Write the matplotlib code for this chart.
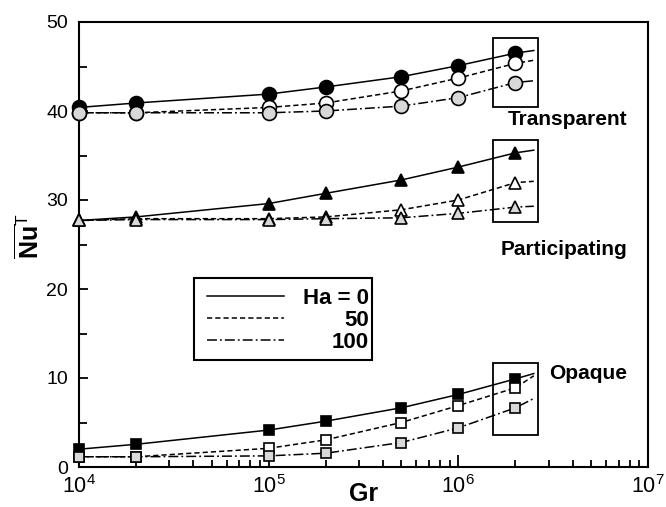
import matplotlib
matplotlib.use("Agg")
import matplotlib.pyplot as plt
from matplotlib.lines import Line2D
from matplotlib.text import Text
from matplotlib.patches import Rectangle
from matplotlib.offsetbox import AnchoredOffsetbox, DrawingArea

plt.rcParams['font.family'] = ['Liberation Sans', 'DejaVu Sans']
plt.rcParams['mathtext.fontset'] = 'custom'
plt.rcParams['mathtext.rm'] = 'Liberation Sans'
plt.rcParams['mathtext.bf'] = 'Liberation Sans:bold'
plt.rcParams['mathtext.it'] = 'Liberation Sans:italic'

# ---------------- data ----------------
gr = [1e4, 2e4, 1e5, 2e5, 5e5, 1e6, 2e6]
gr_line_end = 2.5e6

trans_ha0 = [40.4, 40.9, 41.9, 42.7, 43.85, 45.1, 46.5]
trans_ha50 = [39.8, 39.8, 40.4, 40.9, 42.25, 43.7, 45.35]
trans_ha100 = [39.8, 39.8, 39.8, 40.0, 40.55, 41.5, 43.2]
trans_end = [46.8, 45.7, 43.4]

part_ha0 = [27.7, 28.1, 29.6, 30.75, 32.25, 33.7, 35.3]
part_ha50 = [27.7, 27.9, 27.9, 28.1, 28.9, 30.0, 31.95]
part_ha100 = [27.7, 27.8, 27.8, 27.9, 28.0, 28.5, 29.2]
part_end = [35.6, 32.1, 29.3]

opaq_ha0 = [2.0, 2.55, 4.15, 5.15, 6.65, 8.15, 9.9]
opaq_ha50 = [1.15, 1.15, 2.1, 3.05, 5.0, 6.9, 8.9]
opaq_ha100 = [1.15, 1.15, 1.25, 1.55, 2.75, 4.4, 6.65]
opaq_end = [10.5, 10.25, 7.7]

ha_labels = ["Ha = 0", "50", "100"]
case_labels = ["Transparent", "Participating", "Opaque"]
yticks = [0, 10, 20, 30, 40, 50]

# highlight boxes around the Gr = 2e6 points
box_x = [1.52e6, 2.63e6]
box_y = [[40.4, 48.2], [27.5, 36.7], [3.6, 11.7]]

# ---------------- styles ----------------
LW = 1.1
linestyles = ['-', (0, (3.4, 2.0)), (0, (6.5, 2.0, 1.2, 2.0))]
facecolors = ['black', 'white', '#d8d8d8']
markers = ['o', '^', 's']
msizes = [10, 8, 6.5]

fig = plt.figure(figsize=(6.66, 5.07), dpi=100)
ax = fig.add_axes([79/666, 1-467/507, (648-79)/666, (467-22)/507])

groups = [
    ([trans_ha0, trans_ha50, trans_ha100], trans_end),
    ([part_ha0, part_ha50, part_ha100], part_end),
    ([opaq_ha0, opaq_ha50, opaq_ha100], opaq_end),
]

for gi, (series, ends) in enumerate(groups):
    for si, (vals, endv) in enumerate(zip(series, ends)):
        ax.plot(gr + [gr_line_end], vals + [endv], color='black',
                ls=linestyles[si], lw=LW, zorder=2 + si)
        ax.plot(gr, vals, ls='none', marker=markers[gi], ms=msizes[gi],
                mfc=facecolors[si], mec='black', mew=1.2, zorder=5 + si,
                clip_on=False)

for (y0, y1) in box_y:
    ax.add_patch(Rectangle((box_x[0], y0), box_x[1]-box_x[0], y1-y0,
                           fill=False, ec='black', lw=1.3, zorder=10))

text_pos = [0.780, 0.488, 0.211]
for lab, yp in zip(case_labels, text_pos):
    ax.text(0.963, yp, lab, transform=ax.transAxes, ha='right', va='center',
            fontsize=15, fontweight='bold')

ax.set_xscale('log')
ax.set_xlim(1e4, 1e7)
ax.set_ylim(0, 50)
ax.set_yticks(yticks)
ax.set_yticks([5, 15, 25, 35, 45], minor=True)

for s in ax.spines.values():
    s.set_linewidth(1.5)
ax.tick_params(axis='both', which='both', direction='in', width=1.3,
               top=False, right=False)
ax.tick_params(axis='y', which='major', length=6.5, pad=8, labelsize=14)
ax.tick_params(axis='y', which='minor', length=6)
ax.tick_params(axis='x', which='major', length=9, pad=6, labelsize=15.5)
ax.tick_params(axis='x', which='minor', length=5)

ax.set_xlabel('Gr', fontsize=18, fontweight='bold')
ax.xaxis.set_label_coords(0.5, -0.033)
ax.set_ylabel(r'$\overline{\mathbf{Nu}}^{\mathrm{T}}$', fontsize=18)
ax.yaxis.set_label_coords(-0.062, 0.52)

# legend: one drawing area (points), labels right-aligned as in the reference
W, H = 128, 59
da = DrawingArea(W, H, 0, 0, clip=False)
row_y = [46, 30.2, 14.4]
for si, lab in enumerate(ha_labels):
    da.add_artist(Line2D([9.4, 65], [row_y[si], row_y[si]], color='black',
                         ls=linestyles[si], lw=LW))
    da.add_artist(Text(126, row_y[si], lab, ha='right', va='center_baseline',
                       fontsize=16, fontweight='bold',
                       family=['Liberation Sans', 'DejaVu Sans']))
anch = AnchoredOffsetbox(loc='upper left', child=da, pad=0, borderpad=0,
                         frameon=True, bbox_to_anchor=(0.2021, 0.4247),
                         bbox_transform=ax.transAxes)
anch.patch.set_edgecolor('black')
anch.patch.set_linewidth(1.5)
anch.patch.set_boxstyle('square', pad=0)
ax.add_artist(anch)

fig.savefig('out.png', dpi=100)
